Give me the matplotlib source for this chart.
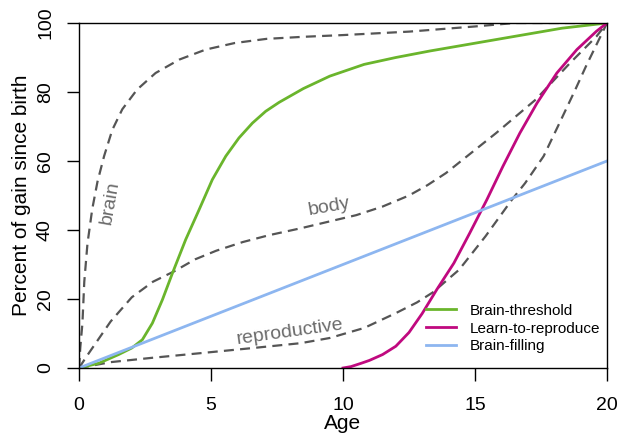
import matplotlib
matplotlib.use('Agg')
import matplotlib.pyplot as plt

plt.rcParams['font.family'] = ['Liberation Sans', 'DejaVu Sans']

# values (age in years, percent of gain since birth)
brain_age = [0, 0.05, 0.13, 0.2, 0.32, 0.5, 0.7, 0.95, 1.26, 1.64, 2.2, 2.9, 3.8, 4.8, 5.9, 7.1, 8.5, 10, 12.5, 15, 16.5, 20]
brain_pct = [0, 6, 13, 25, 36, 46, 54, 61.4, 69, 75, 80.7, 85.5, 89.4, 92.3, 94.2, 95.4, 96, 96.5, 97.5, 99, 100, 100]

body_age = [0, 0.3, 1.2, 2.0, 2.8, 3.6, 4.4, 5.2, 6.2, 7.2, 8.4, 9.5, 10.5, 11.5, 12.5, 13.2, 13.9, 15.8, 17.3, 18.6, 19.6, 20]
body_pct = [0, 3.5, 13.5, 20.5, 25, 28, 31.5, 34, 36.5, 38.5, 40.5, 42.5, 44.3, 46.8, 50, 53, 56.5, 68.1, 77.8, 88.4, 96.1, 100]

repro_age = [0, 1.2, 2.7, 4.6, 6.6, 8.4, 9.5, 10.8, 12.0, 12.8, 13.4, 14.4, 15.4, 16.4, 16.9, 17.6, 18.2, 18.8, 19.2, 20]
repro_pct = [0, 1.7, 2.9, 4.3, 5.8, 7.2, 8.7, 11.6, 15.9, 19.0, 21.9, 28.5, 38.2, 48.8, 53.6, 61.4, 71, 80.7, 87.4, 100]

thresh_age = [0, 0.76, 1.5, 2.0, 2.4, 2.78, 3.16, 3.54, 4.04, 4.55, 5.05, 5.56, 6.06, 6.57, 7.07, 7.58, 8.5, 9.5, 10.8, 12.0, 13.3, 15.8, 18.3, 20]
thresh_pct = [0, 1.4, 3.9, 5.8, 8.2, 13, 19.8, 27.5, 37.2, 45.9, 54.6, 61.4, 66.7, 71, 74.4, 77.0, 81.0, 84.6, 88.0, 90.0, 91.9, 95.2, 98.5, 100]

learn_age = [10, 10.3, 10.7, 11.0, 11.5, 12.0, 12.5, 13.0, 13.55, 14.2, 14.8, 15.45, 16.06, 16.7, 17.35, 18.1, 18.86, 19.6, 20]
learn_pct = [0, 0.4, 1.4, 2.2, 3.9, 6.3, 10.3, 15.8, 22.7, 30.4, 39.1, 48.8, 58.5, 68.1, 76.8, 85.5, 92.3, 97.6, 100]

fill_age = [0, 20]
fill_pct = [0, 60]

fig = plt.figure(figsize=(6.28, 4.38), dpi=100)
ax = fig.add_axes([79/628, 70/438, 528/628, 345/438])

dash_kw = dict(color='#555555', lw=1.6, dashes=(4.5, 2.8))
ax.plot(brain_age, brain_pct, **dash_kw)
ax.plot(body_age, body_pct, **dash_kw)
ax.plot(repro_age, repro_pct, **dash_kw)

solid_kw = dict(lw=2.0, solid_joinstyle='round')
ax.plot(thresh_age, thresh_pct, color='#6AB52C', label='Brain-threshold', **solid_kw)
ax.plot(learn_age, learn_pct, color='#C0097F', label='Learn-to-reproduce', **solid_kw)
ax.plot(fill_age, fill_pct, color='#8DB6F0', label='Brain-filling', **solid_kw)

# curve labels
ax.text(1.17, 47.8, 'brain', rotation=80, color='#6b6b6b', fontsize=14, ha='center', va='center')
ax.text(9.47, 46.7, 'body', rotation=10, color='#6b6b6b', fontsize=14, ha='center', va='center')
ax.text(8.0, 10.4, 'reproductive', rotation=8, color='#6b6b6b', fontsize=14, ha='center', va='center')

ax.set_xlim(0, 20)
ax.set_ylim(0, 100)
ax.set_xticks([0, 5, 10, 15, 20])
ax.set_yticks([0, 20, 40, 60, 80, 100])
ax.tick_params(direction='out', length=9, width=1.0, labelsize=14)
ax.tick_params(axis='x', pad=12)
ax.tick_params(axis='y', pad=9)
for lab in ax.get_yticklabels():
    lab.set_rotation(90)
    lab.set_va('center')
for sp in ax.spines.values():
    sp.set_linewidth(1.0)

ax.set_xlabel('Age', fontsize=15, labelpad=0)
ax.set_ylabel('Percent of gain since birth', fontsize=15, labelpad=4)

ax.legend(loc='upper left', bbox_to_anchor=(0.657, 0.186), frameon=False, fontsize=11,
          handlelength=2.0, handletextpad=0.85, labelspacing=0.25, borderpad=0, borderaxespad=0)

plt.savefig('out.png', dpi=100)
